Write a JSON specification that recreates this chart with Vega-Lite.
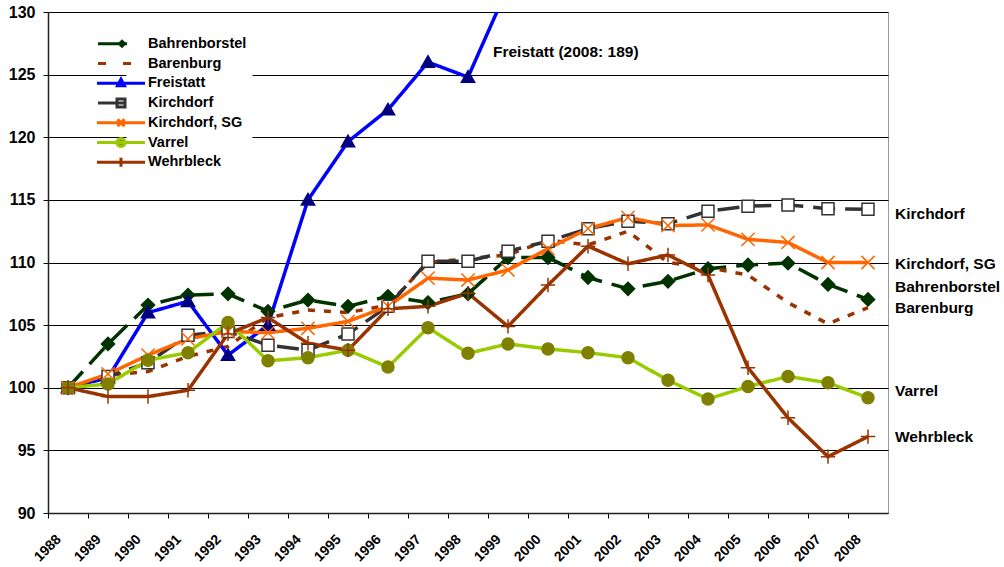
{
  "$schema": "https://vega.github.io/schema/vega-lite/v6.json",
  "autosize": {"type": "none"},
  "width": 840,
  "height": 501,
  "padding": {"left": 48, "top": 12, "right": 116, "bottom": 54},
  "background": "white",
  "config": {
    "font": "Liberation Sans",
    "view": {"stroke": "#999999", "strokeWidth": 1},
    "axis": {"labelFont": "Liberation Sans", "labelFontWeight": "bold", "labelColor": "#000000"},
    "legend": {"orient": "none", "legendX": 78.5, "legendY": 18.5, "title": null, "fillColor": "white", "padding": 6,
               "symbolSize": 16, "symbolStrokeWidth": 3, "labelFont": "Liberation Sans", "labelFontSize": 14.5, "labelFontWeight": "bold", "labelColor": "#000000", "labelOffset": 1, "rowPadding": -2.25, "labelLimit": 300}
  },
  "data": {"values": [
    {"name": "Bahrenborstel", "year": 1988, "value": 100},
    {"name": "Bahrenborstel", "year": 1989, "value": 103.5},
    {"name": "Bahrenborstel", "year": 1990, "value": 106.6},
    {"name": "Bahrenborstel", "year": 1991, "value": 107.4},
    {"name": "Bahrenborstel", "year": 1992, "value": 107.5},
    {"name": "Bahrenborstel", "year": 1993, "value": 106.1},
    {"name": "Bahrenborstel", "year": 1994, "value": 107.0},
    {"name": "Bahrenborstel", "year": 1995, "value": 106.5},
    {"name": "Bahrenborstel", "year": 1996, "value": 107.3},
    {"name": "Bahrenborstel", "year": 1997, "value": 106.8},
    {"name": "Bahrenborstel", "year": 1998, "value": 107.5},
    {"name": "Bahrenborstel", "year": 1999, "value": 110.4},
    {"name": "Bahrenborstel", "year": 2000, "value": 110.4},
    {"name": "Bahrenborstel", "year": 2001, "value": 108.8},
    {"name": "Bahrenborstel", "year": 2002, "value": 107.9},
    {"name": "Bahrenborstel", "year": 2003, "value": 108.5},
    {"name": "Bahrenborstel", "year": 2004, "value": 109.5},
    {"name": "Bahrenborstel", "year": 2005, "value": 109.8},
    {"name": "Bahrenborstel", "year": 2006, "value": 109.95},
    {"name": "Bahrenborstel", "year": 2007, "value": 108.25},
    {"name": "Bahrenborstel", "year": 2008, "value": 107.05},
    {"name": "Barenburg", "year": 1988, "value": 100},
    {"name": "Barenburg", "year": 1989, "value": 101.0},
    {"name": "Barenburg", "year": 1990, "value": 101.3},
    {"name": "Barenburg", "year": 1991, "value": 102.5},
    {"name": "Barenburg", "year": 1992, "value": 103.3},
    {"name": "Barenburg", "year": 1993, "value": 105.6},
    {"name": "Barenburg", "year": 1994, "value": 106.2},
    {"name": "Barenburg", "year": 1995, "value": 106.0},
    {"name": "Barenburg", "year": 1996, "value": 106.6},
    {"name": "Barenburg", "year": 1997, "value": 110.0},
    {"name": "Barenburg", "year": 1998, "value": 110.3},
    {"name": "Barenburg", "year": 1999, "value": 110.6},
    {"name": "Barenburg", "year": 2000, "value": 111.8},
    {"name": "Barenburg", "year": 2001, "value": 111.4},
    {"name": "Barenburg", "year": 2002, "value": 112.5},
    {"name": "Barenburg", "year": 2003, "value": 110.0},
    {"name": "Barenburg", "year": 2004, "value": 109.6},
    {"name": "Barenburg", "year": 2005, "value": 109.0},
    {"name": "Barenburg", "year": 2006, "value": 106.8},
    {"name": "Barenburg", "year": 2007, "value": 105.1},
    {"name": "Barenburg", "year": 2008, "value": 106.4},
    {"name": "Freistatt", "year": 1988, "value": 100},
    {"name": "Freistatt", "year": 1989, "value": 100.8},
    {"name": "Freistatt", "year": 1990, "value": 106.0},
    {"name": "Freistatt", "year": 1991, "value": 106.9},
    {"name": "Freistatt", "year": 1992, "value": 102.6},
    {"name": "Freistatt", "year": 1993, "value": 105.0},
    {"name": "Freistatt", "year": 1994, "value": 115.0},
    {"name": "Freistatt", "year": 1995, "value": 119.65},
    {"name": "Freistatt", "year": 1996, "value": 122.2},
    {"name": "Freistatt", "year": 1997, "value": 126.0},
    {"name": "Freistatt", "year": 1998, "value": 124.8},
    {"name": "Freistatt", "year": 1999, "value": 132.0},
    {"name": "Freistatt", "year": 2008, "value": 189},
    {"name": "Kirchdorf", "year": 1988, "value": 100},
    {"name": "Kirchdorf", "year": 1989, "value": 100.9},
    {"name": "Kirchdorf", "year": 1990, "value": 102.0},
    {"name": "Kirchdorf", "year": 1991, "value": 104.2},
    {"name": "Kirchdorf", "year": 1992, "value": 104.5},
    {"name": "Kirchdorf", "year": 1993, "value": 103.4},
    {"name": "Kirchdorf", "year": 1994, "value": 103.0},
    {"name": "Kirchdorf", "year": 1995, "value": 104.3},
    {"name": "Kirchdorf", "year": 1996, "value": 106.5},
    {"name": "Kirchdorf", "year": 1997, "value": 110.1},
    {"name": "Kirchdorf", "year": 1998, "value": 110.1},
    {"name": "Kirchdorf", "year": 1999, "value": 110.9},
    {"name": "Kirchdorf", "year": 2000, "value": 111.7},
    {"name": "Kirchdorf", "year": 2001, "value": 112.7},
    {"name": "Kirchdorf", "year": 2002, "value": 113.3},
    {"name": "Kirchdorf", "year": 2003, "value": 113.1},
    {"name": "Kirchdorf", "year": 2004, "value": 114.1},
    {"name": "Kirchdorf", "year": 2005, "value": 114.5},
    {"name": "Kirchdorf", "year": 2006, "value": 114.6},
    {"name": "Kirchdorf", "year": 2007, "value": 114.3},
    {"name": "Kirchdorf", "year": 2008, "value": 114.25},
    {"name": "Kirchdorf, SG", "year": 1988, "value": 100},
    {"name": "Kirchdorf, SG", "year": 1989, "value": 101.1},
    {"name": "Kirchdorf, SG", "year": 1990, "value": 102.6},
    {"name": "Kirchdorf, SG", "year": 1991, "value": 103.9},
    {"name": "Kirchdorf, SG", "year": 1992, "value": 104.5},
    {"name": "Kirchdorf, SG", "year": 1993, "value": 104.4},
    {"name": "Kirchdorf, SG", "year": 1994, "value": 104.75},
    {"name": "Kirchdorf, SG", "year": 1995, "value": 105.3},
    {"name": "Kirchdorf, SG", "year": 1996, "value": 106.5},
    {"name": "Kirchdorf, SG", "year": 1997, "value": 108.75},
    {"name": "Kirchdorf, SG", "year": 1998, "value": 108.6},
    {"name": "Kirchdorf, SG", "year": 1999, "value": 109.4},
    {"name": "Kirchdorf, SG", "year": 2000, "value": 111.1},
    {"name": "Kirchdorf, SG", "year": 2001, "value": 112.7},
    {"name": "Kirchdorf, SG", "year": 2002, "value": 113.6},
    {"name": "Kirchdorf, SG", "year": 2003, "value": 112.95},
    {"name": "Kirchdorf, SG", "year": 2004, "value": 113.0},
    {"name": "Kirchdorf, SG", "year": 2005, "value": 111.85},
    {"name": "Kirchdorf, SG", "year": 2006, "value": 111.6},
    {"name": "Kirchdorf, SG", "year": 2007, "value": 110.0},
    {"name": "Kirchdorf, SG", "year": 2008, "value": 110.0},
    {"name": "Varrel", "year": 1988, "value": 100},
    {"name": "Varrel", "year": 1989, "value": 100.3},
    {"name": "Varrel", "year": 1990, "value": 102.2},
    {"name": "Varrel", "year": 1991, "value": 102.8},
    {"name": "Varrel", "year": 1992, "value": 105.2},
    {"name": "Varrel", "year": 1993, "value": 102.15},
    {"name": "Varrel", "year": 1994, "value": 102.4},
    {"name": "Varrel", "year": 1995, "value": 103.0},
    {"name": "Varrel", "year": 1996, "value": 101.65},
    {"name": "Varrel", "year": 1997, "value": 104.8},
    {"name": "Varrel", "year": 1998, "value": 102.75},
    {"name": "Varrel", "year": 1999, "value": 103.5},
    {"name": "Varrel", "year": 2000, "value": 103.1},
    {"name": "Varrel", "year": 2001, "value": 102.8},
    {"name": "Varrel", "year": 2002, "value": 102.4},
    {"name": "Varrel", "year": 2003, "value": 100.6},
    {"name": "Varrel", "year": 2004, "value": 99.1},
    {"name": "Varrel", "year": 2005, "value": 100.1},
    {"name": "Varrel", "year": 2006, "value": 100.9},
    {"name": "Varrel", "year": 2007, "value": 100.4},
    {"name": "Varrel", "year": 2008, "value": 99.2},
    {"name": "Wehrbleck", "year": 1988, "value": 100},
    {"name": "Wehrbleck", "year": 1989, "value": 99.3},
    {"name": "Wehrbleck", "year": 1990, "value": 99.3},
    {"name": "Wehrbleck", "year": 1991, "value": 99.8},
    {"name": "Wehrbleck", "year": 1992, "value": 104.3},
    {"name": "Wehrbleck", "year": 1993, "value": 105.6},
    {"name": "Wehrbleck", "year": 1994, "value": 103.55},
    {"name": "Wehrbleck", "year": 1995, "value": 103.0},
    {"name": "Wehrbleck", "year": 1996, "value": 106.3},
    {"name": "Wehrbleck", "year": 1997, "value": 106.5},
    {"name": "Wehrbleck", "year": 1998, "value": 107.55},
    {"name": "Wehrbleck", "year": 1999, "value": 104.9},
    {"name": "Wehrbleck", "year": 2000, "value": 108.2},
    {"name": "Wehrbleck", "year": 2001, "value": 111.3},
    {"name": "Wehrbleck", "year": 2002, "value": 109.9},
    {"name": "Wehrbleck", "year": 2003, "value": 110.6},
    {"name": "Wehrbleck", "year": 2004, "value": 109.0},
    {"name": "Wehrbleck", "year": 2005, "value": 101.6},
    {"name": "Wehrbleck", "year": 2006, "value": 97.6},
    {"name": "Wehrbleck", "year": 2007, "value": 94.5},
    {"name": "Wehrbleck", "year": 2008, "value": 96.1}
  ]},
  "resolve": {"scale": {"shape": "independent", "fill": "independent", "stroke": "independent", "color": "independent", "strokeDash": "independent"}},
  "layer": [
    {
      "mark": {"type": "line", "strokeWidth": 3.5, "clip": true},
      "encoding": {
        "x": {"field": "year", "type": "ordinal",
              "scale": {"type": "band", "paddingInner": 0, "paddingOuter": 0},
              "axis": {"title": null, "grid": false, "bandPosition": 0, "labelOffset": -9, "labelAngle": -45, "labelAlign": "right", "labelBaseline": "middle", "labelPadding": 19, "labelFontSize": 14, "tickSize": 5, "tickColor": "#000000", "domainColor": "#222222", "domainWidth": 1.5}},
        "y": {"field": "value", "type": "quantitative",
              "scale": {"domain": [90, 130], "nice": false, "zero": false},
              "axis": {"title": null, "values": [90, 95, 100, 105, 110, 115, 120, 125, 130], "grid": true, "gridColor": "#000000", "gridWidth": 1, "labelFontSize": 16, "labelPadding": 8, "tickSize": 5, "tickColor": "#000000", "domainColor": "#222222", "domainWidth": 1.5}},
        "color": {"field": "name", "type": "nominal", "legend": null,
                  "scale": {"domain": ["Bahrenborstel", "Barenburg", "Freistatt", "Kirchdorf", "Kirchdorf, SG", "Varrel", "Wehrbleck"],
                            "range": ["#003300", "#993300", "#0000FF", "#333333", "#FF6600", "#99CC00", "#993300"]}},
        "strokeDash": {"field": "name", "type": "nominal", "legend": null,
                  "scale": {"domain": ["Bahrenborstel", "Barenburg", "Freistatt", "Kirchdorf", "Kirchdorf, SG", "Varrel", "Wehrbleck"],
                            "range": [[22, 10], [7, 9], [1, 0], [22, 10], [1, 0], [1, 0], [1, 0]]}}
      }
    },
    {
      "transform": [{"filter": "datum.name !== 'Barenburg'"}],
      "mark": {"type": "point", "size": 144, "strokeWidth": 1.5, "opacity": 1, "clip": true},
      "encoding": {
        "x": {"field": "year", "type": "ordinal"},
        "y": {"field": "value", "type": "quantitative"},
        "shape": {"field": "name", "type": "nominal", "legend": null,
                  "scale": {"domain": ["Bahrenborstel", "Freistatt", "Kirchdorf", "Kirchdorf, SG", "Varrel", "Wehrbleck"],
                            "range": ["M-1.1,0L0,-1.1L1.1,0L0,1.1Z", "M-1.1,0.85L1.1,0.85L0,-1.05Z", "M-1,-1H1V1H-1Z", "M-1.1,-1.1L1.1,1.1M-1.1,1.1L1.1,-1.1", "circle", "M-1.2,0H1.2M0,-1.2V1.2"]}},
        "fill": {"field": "name", "type": "nominal", "legend": null,
                 "scale": {"domain": ["Bahrenborstel", "Freistatt", "Kirchdorf", "Kirchdorf, SG", "Varrel", "Wehrbleck"],
                           "range": ["#003300", "#000080", "#FFFFFF", "transparent", "#808000", "transparent"]}},
        "stroke": {"field": "name", "type": "nominal", "legend": null,
                 "scale": {"domain": ["Bahrenborstel", "Freistatt", "Kirchdorf", "Kirchdorf, SG", "Varrel", "Wehrbleck"],
                           "range": ["#003300", "#000080", "#333333", "#FF6600", "#808000", "#993300"]}}
      }
    },
    {
      "transform": [{"filter": "false"}],
      "mark": {"type": "point", "size": 16, "strokeWidth": 3, "opacity": 1},
      "encoding": {
        "x": {"field": "year", "type": "ordinal"},
        "y": {"field": "value", "type": "quantitative"},
        "shape": {"field": "name", "type": "nominal",
                  "scale": {"domain": ["Bahrenborstel", "Barenburg", "Freistatt", "Kirchdorf", "Kirchdorf, SG", "Varrel", "Wehrbleck"],
                            "range": ["M-9.375,-2.25M-9.375,2.25M-20.875,0H-6.375M-8.875,-1.25L-7.625,0L-8.875,1.25L-10.125,0Z",
                                      "M-9.375,-2.25M-9.375,2.25M-20.875,0H-16.875M-8.375,0H-4.375",
                                      "M-9.375,-2.25M-9.375,2.25M-21.375,0H2.625M-11.125,1.25L-7.625,1.25L-9.375,-2Z",
                                      "M-9.375,-2.25M-9.375,2.25M-20.875,0H-7.375M-11.375,-2H-7.375V2H-11.375Z",
                                      "M-9.375,-2.25M-9.375,2.25M-21.375,0H2.625M-11.125,-1.75L-7.625,1.75M-11.125,1.75L-7.625,-1.75",
                                      "M-9.375,-2.25M-9.375,2.25M-21.375,0H2.625M-11.375,0A2,2,0,1,0,-7.375,0A2,2,0,1,0,-11.375,0Z",
                                      "M-9.375,-2.25M-9.375,2.25M-21.375,0H2.625M-9.375,-2.25V2.25"]}},
        "fill": {"field": "name", "type": "nominal",
                 "scale": {"domain": ["Bahrenborstel", "Barenburg", "Freistatt", "Kirchdorf", "Kirchdorf, SG", "Varrel", "Wehrbleck"],
                           "range": ["#003300", "transparent", "#000080", "#FFFFFF", "transparent", "#808000", "transparent"]}},
        "stroke": {"field": "name", "type": "nominal",
                 "scale": {"domain": ["Bahrenborstel", "Barenburg", "Freistatt", "Kirchdorf", "Kirchdorf, SG", "Varrel", "Wehrbleck"],
                           "range": ["#003300", "#993300", "#0000FF", "#333333", "#FF6600", "#99CC00", "#993300"]}}
      }
    },
    {
      "data": {"values": [
        {"name": "Kirchdorf", "year": 2008, "value": 113.87},
        {"name": "Kirchdorf, SG", "year": 2008, "value": 109.88},
        {"name": "Bahrenborstel", "year": 2008, "value": 108.04},
        {"name": "Barenburg", "year": 2008, "value": 106.37},
        {"name": "Varrel", "year": 2008, "value": 99.74},
        {"name": "Wehrbleck", "year": 2008, "value": 96.07}
      ]},
      "mark": {"type": "text", "align": "left", "baseline": "middle", "dx": 27, "font": "Liberation Sans", "fontSize": 15.5, "fontWeight": "bold", "color": "#000000"},
      "encoding": {
        "x": {"field": "year", "type": "ordinal"},
        "y": {"field": "value", "type": "quantitative"},
        "text": {"field": "name"}
      }
    },
    {
      "data": {"values": [
        {"label": "Freistatt (2008: 189)", "year": 1999, "value": 126.83}
      ]},
      "mark": {"type": "text", "align": "left", "baseline": "middle", "dx": -15, "font": "Liberation Sans", "fontSize": 15.5, "fontWeight": "bold", "color": "#000000"},
      "encoding": {
        "x": {"field": "year", "type": "ordinal"},
        "y": {"field": "value", "type": "quantitative"},
        "text": {"field": "label"}
      }
    }
  ]
}
